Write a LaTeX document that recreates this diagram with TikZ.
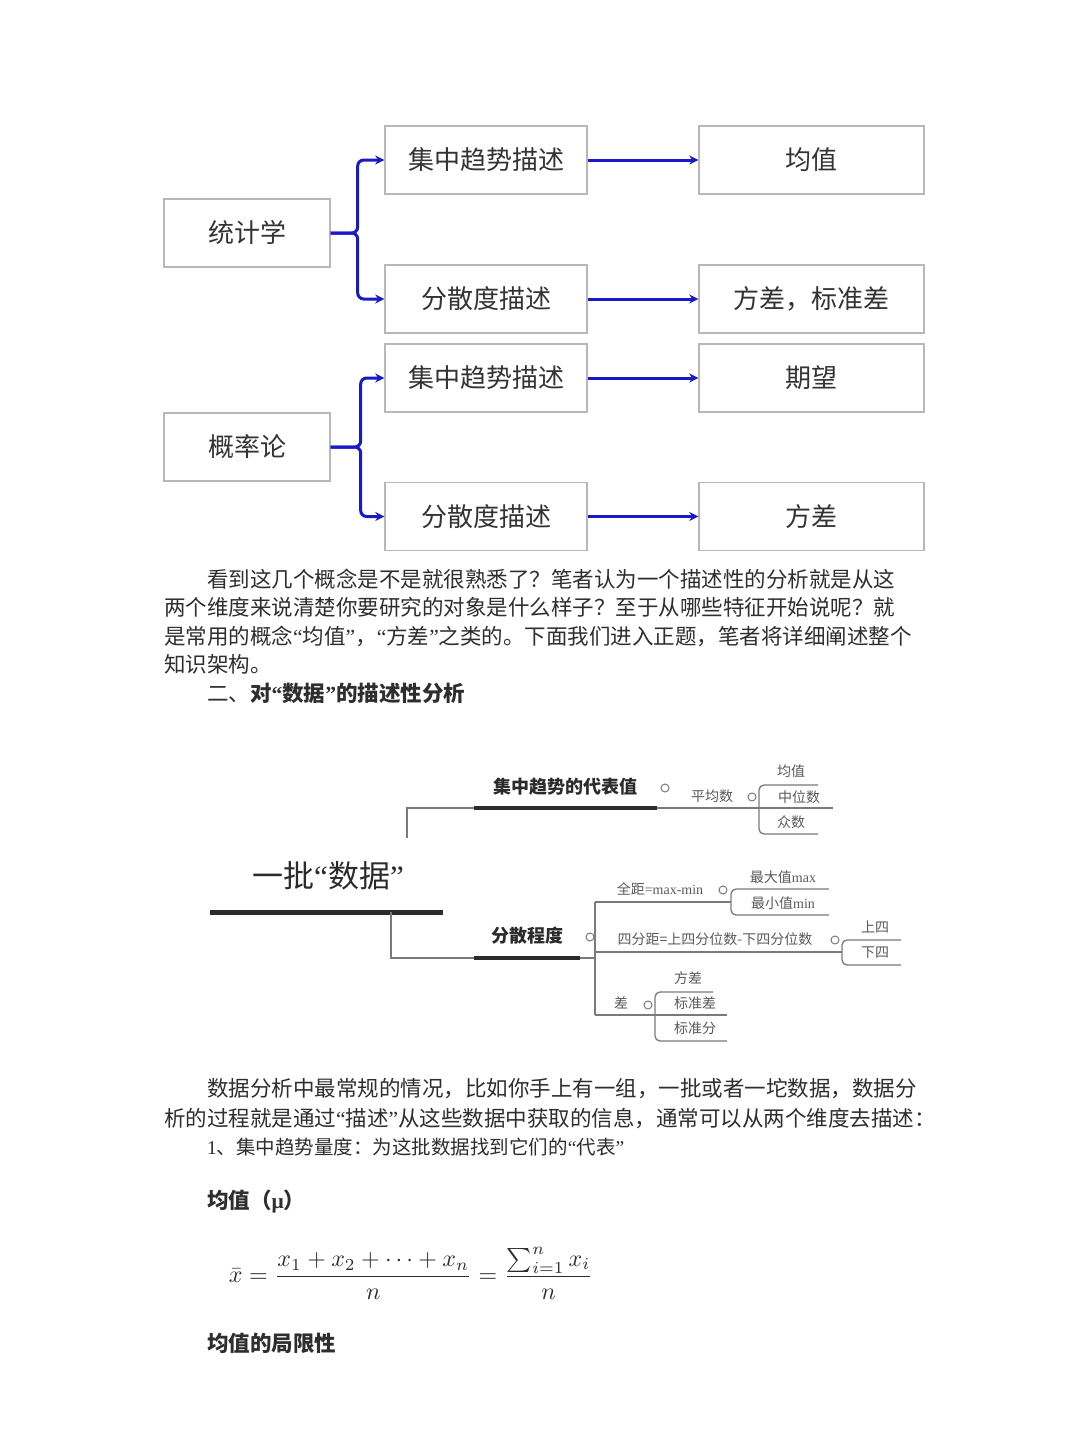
\documentclass[tikz,border=0pt]{standalone}
\usepackage{fontspec}
\setmainfont{Liberation Serif}
\newfontfamily\cjk{Noto Sans CJK SC}
\usepackage{graphicx}
\usetikzlibrary{arrows.meta}
\XeTeXlinebreaklocale "zh"
\XeTeXlinebreakskip=0pt plus 3pt minus 1pt
\definecolor{boxgray}{HTML}{B8B8B8}
\definecolor{boxtext}{HTML}{333333}
\definecolor{myblue}{RGB}{25,25,200}
\definecolor{bodytext}{HTML}{2E2E2E}
\definecolor{linegray}{HTML}{7A7A7A}
\definecolor{darkline}{HTML}{2B2B2B}
\definecolor{subtext}{HTML}{5A5A5A}
\newcommand\qo{{\rmfamily “}}
\newcommand\qc{{\rmfamily ”}}
\newcommand\fsz[1]{\fontsize{#1}{#1}\selectfont}
\begin{document}
\begin{tikzpicture}[x=1pt,y=-1pt,
  box/.style={draw=boxgray,line width=1.4pt,minimum height=68pt,inner sep=0pt,text=boxtext,font=\cjk\fsz{26}},
  lbox/.style={box,minimum width=166pt},
  mbox/.style={box,minimum width=202pt},
  rbox/.style={box,minimum width=225pt},
  blu/.style={draw=myblue,line width=3pt,-{Stealth[length=9pt,width=9pt]}},
  ptxt/.style={inner sep=0pt,anchor=west,text=bodytext,font=\cjk\fsz{21.5}},
  mm/.style={draw=linegray,line width=1.3pt},
  thk/.style={draw=darkline,line width=4.5pt},
  mmain/.style={inner sep=0pt,text=darkline,font=\cjk\bfseries\fsz{18}},
  msub/.style={inner sep=0pt,text=subtext,font=\cjk\fsz{14}},
  dot/.style={draw=linegray,line width=1pt,circle,inner sep=0pt,minimum size=8pt}
]
\fill[white] (0,0) rectangle (1080,1440);
\useasboundingbox (0,0) rectangle (1080,1440);

% ---------- top diagram ----------
\node[lbox] (tj) at (247,233) {统计学};
\node[mbox] (jz1) at (486,160) {集中趋势描述};
\node[mbox] (fs1) at (486,299) {分散度描述};
\node[rbox] (jv) at (811.5,160) {均值};
\node[rbox] (fc1) at (811.5,299) {方差，标准差};
\node[lbox] (gl) at (247,447) {概率论};
\node[mbox] (jz2) at (486,378) {集中趋势描述};
\node[mbox] (fs2) at (486,516.5) {分散度描述};
\node[rbox] (qw) at (811.5,378) {期望};
\node[rbox] (fc2) at (811.5,516.5) {方差};

\draw[blu,rounded corners=6pt] (tj.east) -- ++(27,0) |- (jz1.west);
\draw[blu,rounded corners=6pt] (tj.east) -- ++(27,0) |- (fs1.west);
\draw[blu,rounded corners=6pt] (gl.east) -- ++(30,0) |- (jz2.west);
\draw[blu,rounded corners=6pt] (gl.east) -- ++(30,0) |- (fs2.west);
\draw[blu] (jz1.east) -- (jv.west);
\draw[blu] (fs1.east) -- (fc1.west);
\draw[blu] (jz2.east) -- (qw.west);
\draw[blu] (fs2.east) -- (fc2.west);

% ---------- paragraph 1 ----------
\node[ptxt] (p1a) at (207,579) {\hbox to 695pt{看到这几个概念是不是就很熟悉了？笔者认为一个描述性的分析就是从这}};
\node[ptxt] (p1b) at (164,607) {\hbox to 738pt{两个维度来说清楚你要研究的对象是什么样子？至于从哪些特征开始说呢？就}};
\node[ptxt] (p1c) at (164,636) {\hbox to 751pt{是常用的概念\qo 均值\qc ，\qo 方差\qc 之类的。下面我们进入正题，笔者将详细阐述整个}};
\node[ptxt] (p1d) at (164,664) {知识架构。};
\node[ptxt] (h2) at (207,693) {二、{\bfseries 对\qo 数据\qc 的描述性分析}};

% ---------- mind map ----------
\draw[mm] (407,838) -- (407,808) -- (833,808);
\draw[thk] (474,808) -- (657,808);
\node[mmain] (m1) at (565,787) {集中趋势的代表值};
\node[dot] (c1) at (665,788) {};
\node[msub] (pj) at (712,796) {平均数};
\node[dot] (c2) at (752,797) {};
\draw[mm,rounded corners=5pt] (818,785) -- (759,785) -- (759,834) -- (818,834);
\node[msub] (s1) at (791,771) {均值};
\node[msub] (s2) at (799,797) {中位数};
\node[msub] (s3) at (791,822) {众数};

\node[inner sep=0pt,text=darkline,font=\cjk\fsz{31}] (root) at (328,876) {一批\qo 数据\qc};
\draw[thk,line width=5pt] (210,912) -- (443,912);
\draw[mm] (391,912) -- (391,958) -- (595,958);
\draw[thk] (474,958) -- (580,958);
\node[mmain] (m2) at (527,936) {分散程度};
\node[dot] (c3) at (590,937) {};
\draw[mm] (595,902) -- (595,1015);

\draw[mm] (595,902) -- (731,902);
\node[msub] (qj) at (660,889) {全距{\rmfamily =max-min}};
\node[dot] (c4) at (723,890) {};
\draw[mm,rounded corners=5pt] (829,889) -- (731,889) -- (731,915) -- (829,915);
\node[msub] (mx) at (783,877) {最大值{\rmfamily max}};
\node[msub] (mn) at (783,903) {最小值{\rmfamily min}};

\draw[mm] (595,952) -- (842,952);
\node[msub] (sf) at (715,939) {四分距=上四分位数-下四分位数};
\node[dot] (c5) at (835,940) {};
\draw[mm,rounded corners=5pt] (901,940) -- (842,940) -- (842,965) -- (901,965);
\node[msub] (ss) at (875,927) {上四};
\node[msub] (sx) at (875,953) {下四};

\draw[mm] (595,1015) -- (727,1015);
\node[msub] (ch) at (621,1003) {差};
\node[dot] (c6) at (648,1005) {};
\draw[mm,rounded corners=5pt] (713,992) -- (655,992) -- (655,1041) -- (727,1041);
\node[msub] (fc) at (688,978) {方差};
\node[msub] (bzc) at (695,1003) {标准差};
\node[msub] (bzf) at (695,1028) {标准分};

% ---------- paragraph 2 ----------
\node[ptxt] (p2a) at (207,1089) {\hbox to 708pt{数据分析中最常规的情况，比如你手上有一组，一批或者一坨数据，数据分}};
\node[ptxt] (p2b) at (164,1118) {\hbox to 761pt{析的过程就是通过\qo 描述\qc 从这些数据中获取的信息，通常可以从两个维度去描述：}};
\node[ptxt,font=\cjk\fsz{19.5}] (p2c) at (207,1147) {{\rmfamily 1}、集中趋势量度：为这批数据找到它们的\qo 代表\qc};
\node[ptxt,font=\cjk\bfseries\fsz{21.5}] (mu) at (207,1201) {均值（{\rmfamily μ}）};
\node[inner sep=0pt,text=bodytext] (frm) at (411,1273) {\scalebox{2.4}{$\displaystyle \bar{x}=\frac{x_1+x_2+\cdots+x_n}{n}=\frac{\sum_{i=1}^{n}x_i}{n}$}};
\node[ptxt,font=\cjk\bfseries\fsz{21.5}] (jx) at (207,1343) {均值的局限性};
\end{tikzpicture}
\end{document}
